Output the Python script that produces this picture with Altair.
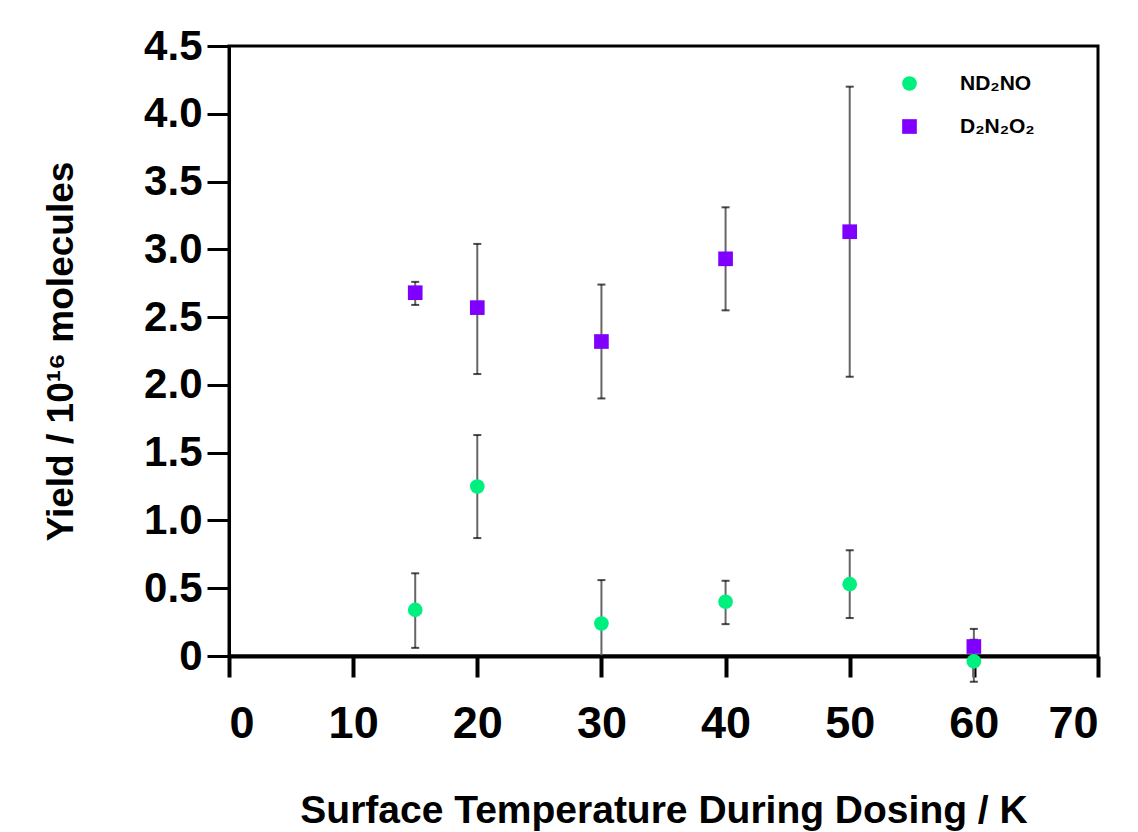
import altair as alt
import pandas as pd

# ---- data ----
temps = [15, 20, 30, 40, 50, 60]

species_names = ["ND₂NO", "D₂N₂O₂"]

nd2no = [0.34, 1.25, 0.24, 0.40, 0.53, -0.04]
nd2no_lo = [0.06, 0.87, 0.00, 0.235, 0.28, -0.19]
nd2no_hi = [0.61, 1.63, 0.56, 0.555, 0.78, 0.12]

d2n2o2 = [2.68, 2.57, 2.32, 2.93, 3.13, 0.07]
d2n2o2_lo = [2.59, 2.08, 1.90, 2.55, 2.06, -0.05]
d2n2o2_hi = [2.76, 3.04, 2.74, 3.31, 4.20, 0.20]

y_ticks = [0, 0.5, 1.0, 1.5, 2.0, 2.5, 3.0, 3.5, 4.0, 4.5]
x_ticks = [0, 10, 20, 30, 40, 50, 60, 70]

colors = ["#00F07F", "#7F00FF"]
shapes = ["circle", "square"]

# long table: D2N2O2 first so ND2NO circles are drawn on top
rows = []
for t, v, lo, hi in zip(temps, d2n2o2, d2n2o2_lo, d2n2o2_hi):
    rows.append({"temp": t, "value": v, "lo": lo, "hi": hi, "species": species_names[1]})
for t, v, lo, hi in zip(temps, nd2no, nd2no_lo, nd2no_hi):
    rows.append({"temp": t, "value": v, "lo": lo, "hi": hi, "species": species_names[0]})
df = pd.DataFrame(rows)

FONT = "Liberation Sans"

x_enc = alt.X(
    "temp:Q",
    scale=alt.Scale(domain=[0, 70], nice=False),
    axis=alt.Axis(
        values=x_ticks,
        title="Surface Temperature During Dosing / K",
        labelFontSize=45,
        titleFontSize=39,
        labelPadding=24,
        titlePadding=45,
        domainWidth=4,
        tickWidth=4,
        tickSize=21,
    ),
)
y_scale = alt.Scale(domain=[0, 4.5], nice=False, zero=False)
y_axis = alt.Axis(
    values=y_ticks,
    title="Yield / 10¹⁶ molecules",
    labelExpr="datum.value == 0 ? '0' : format(datum.value, '.1f')",
    labelFontSize=42,
    titleFontSize=37,
    labelPadding=5,
    titlePadding=63,
    domainWidth=3,
    tickWidth=3,
    tickSize=22,
)

base = alt.Chart(df)

err = base.mark_rule(color="#666666", strokeWidth=2).encode(
    x=x_enc,
    y=alt.Y("lo:Q", scale=y_scale, axis=y_axis),
    y2="hi:Q",
)
cap_lo = base.mark_tick(color="black", size=8, thickness=2, orient="horizontal").encode(
    x="temp:Q", y=alt.Y("lo:Q", scale=y_scale)
)
cap_hi = base.mark_tick(color="black", size=8, thickness=2, orient="horizontal").encode(
    x="temp:Q", y=alt.Y("hi:Q", scale=y_scale)
)

points = base.mark_point(filled=True, opacity=1, size=215).encode(
    x="temp:Q",
    y=alt.Y("value:Q", scale=y_scale),
    color=alt.Color(
        "species:N",
        scale=alt.Scale(domain=species_names, range=colors),
        sort=species_names,
        legend=alt.Legend(
            title=None,
            orient="none",
            legendX=670,
            legendY=27,
            labelFontSize=21,
            labelFont=FONT,
            labelFontWeight="bold",
            labelOffset=40,
            symbolSize=215,
            symbolStrokeWidth=0,
            rowPadding=21,
            padding=0,
        ),
    ),
    shape=alt.Shape(
        "species:N",
        scale=alt.Scale(domain=species_names, range=shapes),
        sort=species_names,
    ),
)

chart = (
    alt.layer(err, cap_lo, cap_hi, points)
    .properties(
        width=869,
        height=610,
        autosize=alt.AutoSizeParams(type="none"),
        padding={"left": 229, "top": 46, "right": 40, "bottom": 176},
        background="white",
    )
    .configure_view(stroke="black", strokeWidth=3)
    .configure_axis(
        grid=False,
        domainColor="black",
        tickColor="black",
        labelColor="black",
        titleColor="black",
        labelFont=FONT,
        titleFont=FONT,
        labelFontWeight="bold",
        titleFontWeight="bold",
    )
)

chart.save("out.html", embed_options={"renderer": "svg", "actions": False})
